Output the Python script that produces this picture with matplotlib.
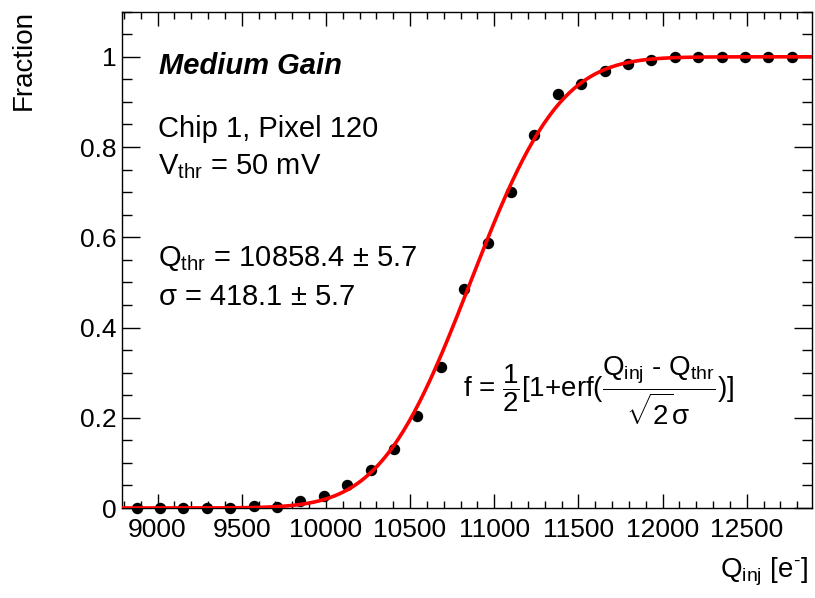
import math
import numpy as np
import matplotlib
matplotlib.use('Agg')
import matplotlib.pyplot as plt
from matplotlib.ticker import MultipleLocator

plt.rcParams['font.family'] = ['Liberation Sans', 'DejaVu Sans']
plt.rcParams['mathtext.fontset'] = 'custom'
plt.rcParams['mathtext.rm'] = 'Liberation Sans'
plt.rcParams['mathtext.it'] = 'Liberation Sans'
plt.rcParams['mathtext.bf'] = 'Liberation Sans:bold'
plt.rcParams['mathtext.sf'] = 'Liberation Sans'

# injected charge [e-] and measured hit fraction
q_inj = [8876, 9015, 9154, 9293, 9432, 9571, 9710, 9849, 9988, 10127,
         10266, 10405, 10544, 10683, 10822, 10961, 11100, 11239, 11378, 11517,
         11656, 11795, 11934, 12073, 12212, 12351, 12490, 12629, 12768]
fraction = [0.0, 0.0, 0.0, 0.0, 0.001, 0.005, 0.003, 0.016, 0.027, 0.050,
            0.084, 0.131, 0.204, 0.313, 0.486, 0.588, 0.701, 0.826, 0.917, 0.939,
            0.969, 0.985, 0.993, 0.999, 1.0, 1.0, 1.0, 1.0, 1.0]

# fit result
q_thr = 10858.4
q_thr_err = 5.7
sigma = 418.1
sigma_err = 5.7

xmin, xmax = 8789, 12885

fig = plt.figure(figsize=(8.15, 5.98), dpi=100)
ax = fig.add_axes([122/815, 90/598, 689.5/815, 496.3/598])

xf = np.linspace(xmin, xmax, 400)
yf = np.array([0.5 * (1 + math.erf((x - q_thr) / (math.sqrt(2) * sigma))) for x in xf])

ax.plot(q_inj, fraction, 'o', color='black', ms=7.2, clip_on=False, zorder=3)
ax.plot(xf, yf, color='#ff0000', lw=2.6, zorder=4)

ax.set_xlim(xmin, xmax)
ax.set_ylim(0, 1.1)
ax.xaxis.set_major_locator(MultipleLocator(500))
ax.xaxis.set_minor_locator(MultipleLocator(100))
ax.yaxis.set_major_locator(MultipleLocator(0.2))
ax.yaxis.set_minor_locator(MultipleLocator(0.05))
ax.yaxis.set_major_formatter(plt.FuncFormatter(lambda v, p: '%g' % round(v, 2)))

ax.tick_params(axis='both', which='both', direction='in', top=True, right=True,
               width=1.0, labelsize=19)
ax.tick_params(axis='x', which='major', length=10, pad=7)
ax.tick_params(axis='x', which='minor', length=5)
ax.tick_params(axis='y', which='major', length=13, pad=4)
ax.tick_params(axis='y', which='minor', length=7)
for s in ax.spines.values():
    s.set_linewidth(1.0)

ax.text(0.0537, 0.8745, 'Medium Gain', transform=ax.transAxes, fontsize=21,
        fontweight='bold', fontstyle='italic', va='baseline')
ax.text(0.0522, 0.7475, 'Chip 1, Pixel 120', transform=ax.transAxes, fontsize=21,
        va='baseline')
ax.text(0.0522, 0.673, r'V$_{thr}$ = 50 mV', transform=ax.transAxes, fontsize=21,
        va='baseline')
ax.text(0.0522, 0.4876, r'Q$_{thr}$ = %.1f $\pm$ %.1f' % (q_thr, q_thr_err),
        transform=ax.transAxes, fontsize=21, va='baseline')
ax.text(0.0522, 0.409, r'$\sigma$ = %.1f $\pm$ %.1f' % (sigma, sigma_err),
        transform=ax.transAxes, fontsize=21, va='baseline')
ax.text(0.4946, 0.236,
        r'$\text{f = }\dfrac{1}{2}\text{[1+erf(}'
        r'\dfrac{Q_{inj}\text{ - }Q_{thr}}{\sqrt{2}\sigma}\text{)]}$',
        transform=ax.transAxes, fontsize=20, va='center')

fig.text(24/815, 1 - 10/598, 'Fraction', rotation=90, ha='center', va='top',
         fontsize=20)
fig.text(808/815, 21/598, r'Q$_{inj}$ [e$^{\text{-}}$]', ha='right', va='baseline',
         fontsize=20)

fig.savefig('out.png', dpi=100)
